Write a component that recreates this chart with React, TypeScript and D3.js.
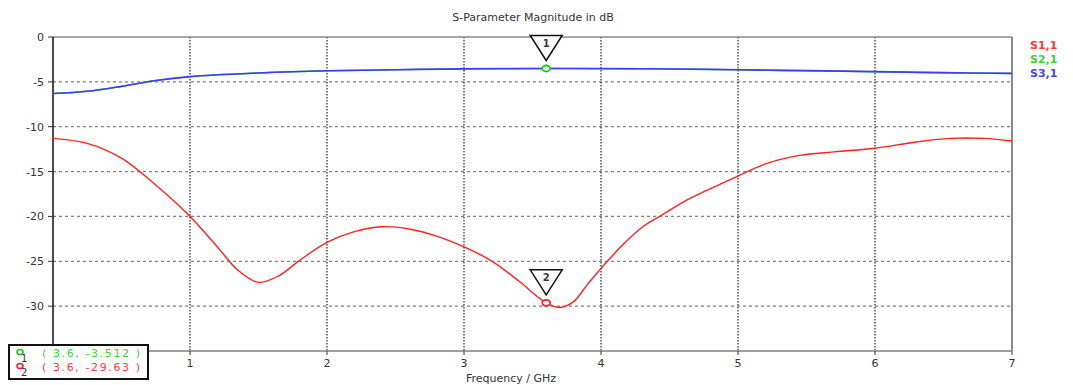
import * as d3 from "d3";

// S-parameter traces (GHz, dB)
const FREQ_S11 = [0, 0.25, 0.5, 0.75, 1.0, 1.2, 1.35, 1.5, 1.65, 1.8, 2.0, 2.2, 2.4, 2.6, 2.8, 3.0, 3.2, 3.4, 3.6, 3.7, 3.8, 3.9, 4.0, 4.15, 4.3, 4.45, 4.6, 4.8, 5.0, 5.2, 5.45, 5.7, 6.0, 6.3, 6.55, 6.8, 7.0];
const S11 = [-11.3, -11.85, -13.5, -16.5, -20.0, -23.4, -26.0, -27.35, -26.6, -24.9, -22.9, -21.7, -21.15, -21.4, -22.2, -23.4, -24.95, -27.2, -29.63, -30.15, -29.5, -27.6, -25.8, -23.3, -21.2, -19.8, -18.4, -16.9, -15.5, -14.15, -13.2, -12.8, -12.4, -11.7, -11.3, -11.3, -11.6];

const FREQ_S21 = [0, 0.25, 0.5, 0.75, 1.0, 1.5, 2.0, 2.5, 3.0, 3.6, 4.0, 4.6, 5.0, 5.5, 6.0, 6.5, 7.0];
const S21 = [-6.3, -6.05, -5.5, -4.85, -4.42, -4.02, -3.77, -3.65, -3.55, -3.512, -3.53, -3.59, -3.67, -3.77, -3.88, -3.99, -4.07];
const S31 = [-6.3, -6.05, -5.5, -4.85, -4.42, -4.02, -3.77, -3.65, -3.55, -3.51, -3.52, -3.57, -3.65, -3.75, -3.86, -3.97, -4.05];

const X_TICKS = [1, 2, 3, 4, 5, 6, 7];
const Y_TICKS = [0, -5, -10, -15, -20, -25, -30];

const SERIES = [
  { name: "S1,1", color: "#ff2020", legend: "#ff3b3b" },
  { name: "S2,1", color: "#2ecc2e", legend: "#3fcf3f" },
  { name: "S3,1", color: "#3b3bff", legend: "#4646ff" },
];

const MARKERS = [
  { id: "1", f: 3.6, db: -3.512, color: "#22c022", label: "( 3.6, -3.512 )" },
  { id: "2", f: 3.6, db: -29.63, color: "#ff2020", label: "( 3.6, -29.63 )" },
];

const W = 1073;
const H = 385;
const FONT = "Verdana, 'DejaVu Sans', sans-serif";

export default function App() {
  const x = d3.scaleLinear().domain([0, 7]).range([53, 1012]);
  const y = d3.scaleLinear().domain([-35, 0]).range([351, 37]);

  const line = d3
    .line<[number, number]>()
    .x((d) => x(d[0]))
    .y((d) => y(d[1]))
    .curve(d3.curveCatmullRom.alpha(0.5));

  const s11 = line(FREQ_S11.map((f, i) => [f, S11[i]] as [number, number]));
  const s21 = line(FREQ_S21.map((f, i) => [f, S21[i]] as [number, number]));
  const s31 = line(FREQ_S21.map((f, i) => [f, S31[i]] as [number, number]));

  const [x0, x1] = x.range();
  const [yb, yt] = y.range();

  return (
    <svg
      width={W}
      height={H}
      style={{ position: "absolute", left: 0, top: 0, background: "#fff" }}
      fontFamily={FONT}
    >
      <text x={533} y={21} textAnchor="middle" fontSize={11} fill="#333">
        S-Parameter Magnitude in dB
      </text>

      {/* horizontal grid */}
      {Y_TICKS.filter((t) => t !== 0).map((t) => (
        <line key={"h" + t} x1={x0} x2={x1} y1={y(t)} y2={y(t)} stroke="#808080" strokeWidth={1.2} strokeDasharray="3,3" />
      ))}
      {/* vertical grid */}
      {X_TICKS.filter((t) => t !== 7).map((t) => (
        <line key={"v" + t} x1={x(t)} x2={x(t)} y1={yt} y2={yb} stroke="#111" strokeWidth={1.1} strokeDasharray="1.5,1.5" />
      ))}

      {/* frame */}
      <line x1={x0} x2={x1} y1={yt} y2={yt} stroke="#8a8a8a" strokeWidth={1.5} />
      <line x1={x1} x2={x1} y1={yt} y2={yb} stroke="#8a8a8a" strokeWidth={2} />
      <line x1={x0} x2={x1} y1={yb} y2={yb} stroke="#a0a0a0" strokeWidth={2} />
      <line x1={x0} x2={x0} y1={yt} y2={yb} stroke="#111" strokeWidth={1.5} />

      {/* y ticks */}
      {Y_TICKS.map((t) => (
        <g key={"yt" + t}>
          <line x1={x0 - 5} x2={x0} y1={y(t)} y2={y(t)} stroke="#333" />
          <text x={x0 - 9} y={y(t) + 4} textAnchor="end" fontSize={11} fill="#333">
            {t}
          </text>
        </g>
      ))}
      {/* x ticks */}
      {X_TICKS.map((t) => (
        <g key={"xt" + t}>
          <line x1={x(t)} x2={x(t)} y1={yb} y2={yb + 4} stroke="#333" />
          <text x={x(t)} y={yb + 16} textAnchor="middle" fontSize={11} fill="#333">
            {t}
          </text>
        </g>
      ))}
      <text x={511} y={382} textAnchor="middle" fontSize={11} fill="#333">
        Frequency / GHz
      </text>

      {/* traces */}
      <path d={s21 ?? ""} fill="none" stroke={SERIES[1].color} strokeWidth={1.4} />
      <path d={s31 ?? ""} fill="none" stroke={SERIES[2].color} strokeWidth={1.6} />
      <path d={s11 ?? ""} fill="none" stroke={SERIES[0].color} strokeWidth={1.4} />

      {/* legend */}
      {SERIES.map((s, i) => (
        <text key={s.name} x={1030} y={49 + i * 14} fontSize={11} fontWeight="bold" fill={s.legend}>
          {s.name}
        </text>
      ))}

      {/* markers */}
      {MARKERS.map((m) => {
        const cx = x(m.f);
        const cy = y(m.db);
        const tipY = cy - 8;
        return (
          <g key={"m" + m.id}>
            <path
              d={`M${cx - 16},${tipY - 25} L${cx + 16},${tipY - 25} L${cx},${tipY} Z`}
              fill="#fff"
              stroke="#111"
              strokeWidth={1.5}
            />
            <text x={cx} y={tipY - 14} textAnchor="middle" fontSize={10} fontWeight="bold" fill="#334">
              {m.id}
            </text>
            <ellipse cx={cx} cy={cy} rx={4} ry={3} fill="#fff" stroke={m.color} strokeWidth={1.8} />
          </g>
        );
      })}

      {/* marker readout box */}
      <rect x={9} y={345} width={139} height={34} fill="#fff" stroke="#111" strokeWidth={2} />
      {MARKERS.map((m, i) => (
        <g key={"r" + m.id}>
          <ellipse cx={20} cy={352 + i * 14} rx={3} ry={2.5} fill="#fff" stroke={m.color} strokeWidth={1.6} />
          <text x={21} y={362 + i * 14} fontSize={10} fill="#333">
            {m.id}
          </text>
          <text
            x={42}
            y={357 + i * 14}
            fontSize={11}
            fill={i === 0 ? "#3fcf3f" : "#ff3b3b"}
            textLength={98}
            lengthAdjust="spacing"
          >
            {m.label}
          </text>
        </g>
      ))}
    </svg>
  );
}
